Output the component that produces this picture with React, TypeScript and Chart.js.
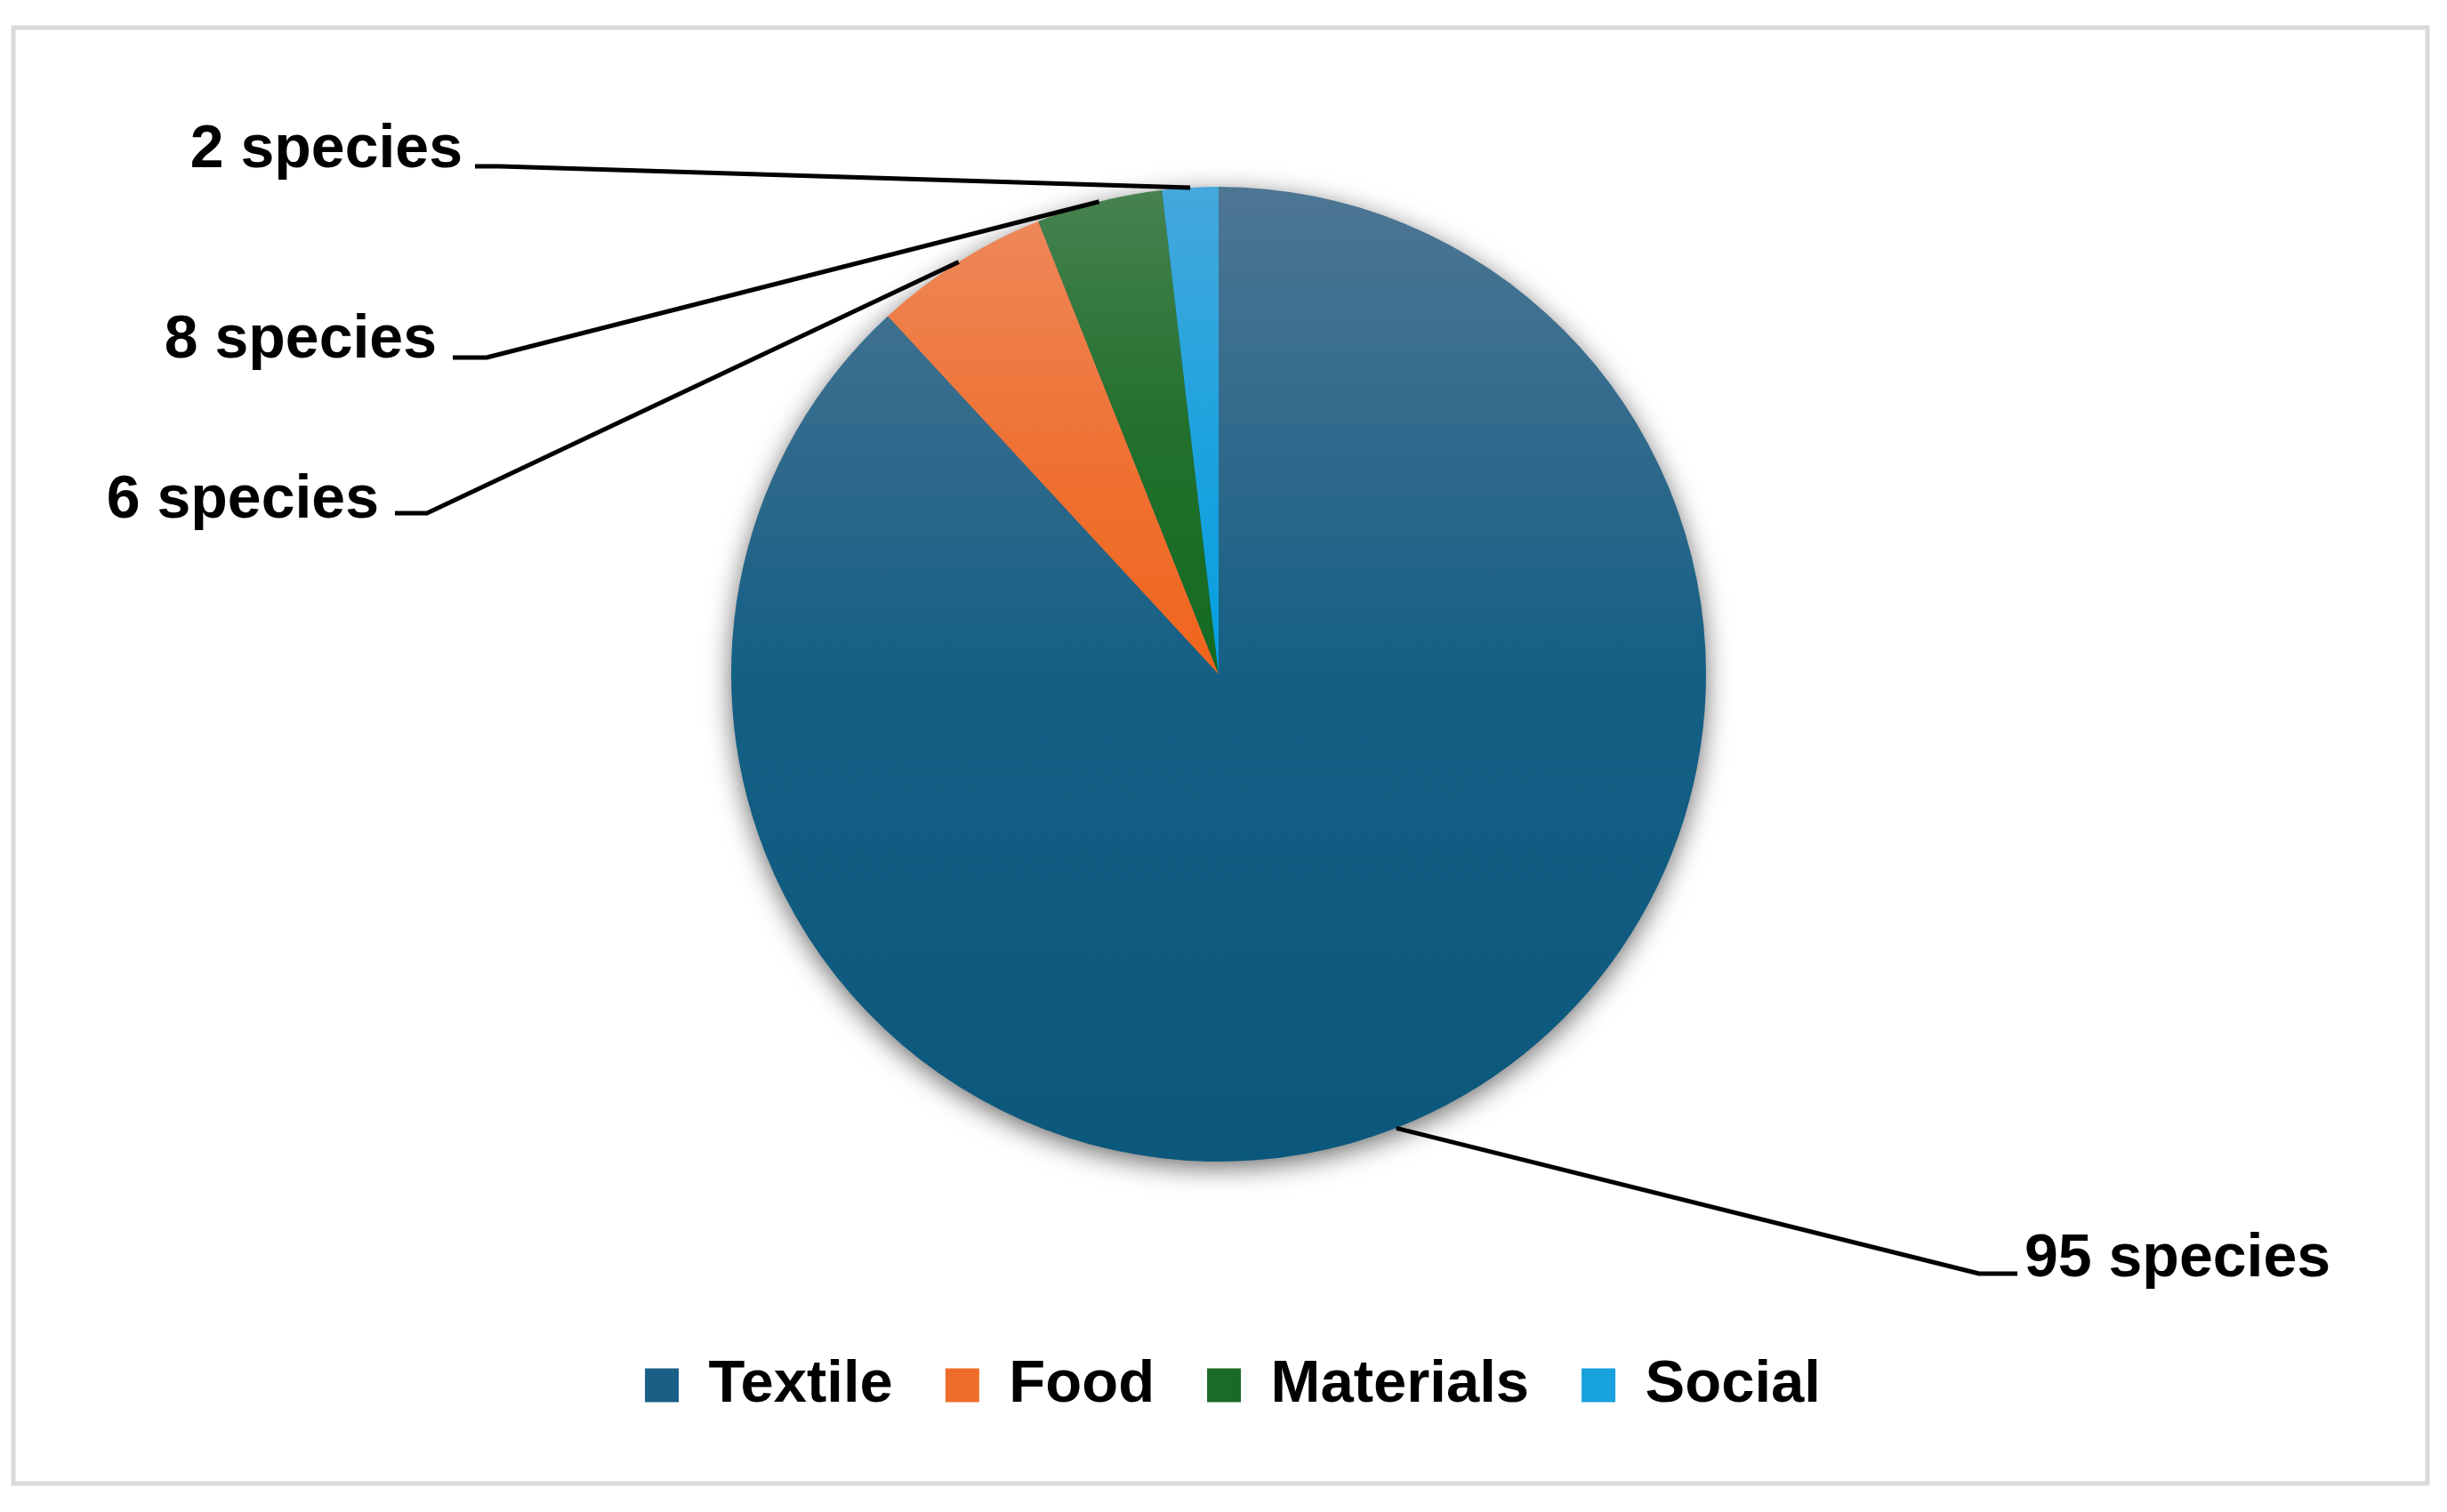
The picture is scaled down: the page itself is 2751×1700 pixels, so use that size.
import React, { useEffect, useRef } from "react";
import { Chart, registerables } from "chart.js";

Chart.register(...registerables);

// ---- data ----
const categories = ["Textile", "Food", "Materials", "Social"];
const speciesValues = [95, 6.3, 4.5, 2];
const speciesLabels = ["95 species", "6 species", "8 species", "2 species"];

// ---- styles ----
const sliceGradients: string[][] = [
  ["#4d7693", "#155f85", "#0b587c"],
  ["#ee8758", "#ef7234", "#f0651c"],
  ["#468250", "#22702c", "#146a20"],
  ["#45a8dc", "#1ea3de", "#059fe0"],
];
const legendColors = ["#1a5f86", "#ef6c2a", "#1b6a27", "#17a1dd"];
const FONT = '"Liberation Sans", Arial, sans-serif';

// label placement relative to pie centre (annotation layout)
const labelLayout = [
  { tx: 906, ty: 677, align: "left", x0: 898, x1: 855, yl: 674 },
  { tx: -944, ty: -176, align: "right", x0: -926, x1: -890, yl: -181 },
  { tx: -879, ty: -356, align: "right", x0: -861, x1: -823, yl: -356 },
  { tx: -850, ty: -570, align: "right", x0: -836, x1: -808, yl: -571 },
];

function sliceFill(ctx: any) {
  const i = ctx.dataIndex;
  const stops = sliceGradients[i];
  const el = ctx.element;
  if (!el || !isFinite(el.x) || !isFinite(el.outerRadius) || el.outerRadius <= 0) return stops[1];
  const { x, y, outerRadius: r, startAngle: a0, endAngle: a1 } = el;
  const ys = [y, y + r * Math.sin(a0), y + r * Math.sin(a1)];
  const TWO = Math.PI * 2;
  const inRange = (a: number) => {
    let t = a;
    while (t < a0) t += TWO;
    while (t > a0 + TWO) t -= TWO;
    return t <= a1;
  };
  if (inRange(-Math.PI / 2)) ys.push(y - r);
  if (inRange(Math.PI / 2)) ys.push(y + r);
  const minY = Math.min(...ys);
  const maxY = Math.max(...ys);
  const g = ctx.chart.ctx.createLinearGradient(0, minY, 0, maxY);
  g.addColorStop(0, stops[0]);
  g.addColorStop(0.5, stops[1]);
  g.addColorStop(1, stops[2]);
  return g;
}

const decorPlugin = {
  id: "decor",
  afterLayout(chart: any) {
    // legend sits slightly right of the pie centre in the original
    if (chart.legend) {
      chart.legend.left += 16;
      chart.legend.right += 16;
    }
  },
  beforeDraw(chart: any) {
    const c = chart.ctx;
    c.save();
    c.strokeStyle = "#d9d9d9";
    c.lineWidth = 5;
    c.strokeRect(15, 31, 2714, 1637);
    c.restore();
  },
  beforeDatasetsDraw(chart: any) {
    const el = chart.getDatasetMeta(0).data[0];
    if (!el) return;
    const { x, y, outerRadius } = el.getProps(["x", "y", "outerRadius"], true);
    const c = chart.ctx;
    c.save();
    c.shadowColor = "rgba(0,0,0,0.6)";
    c.shadowBlur = 30;
    c.shadowOffsetY = 7;
    c.beginPath();
    c.arc(x, y, outerRadius - 1, 0, Math.PI * 2);
    c.fillStyle = "#156082";
    c.fill();
    c.restore();
  },
  afterDatasetsDraw(chart: any) {
    const meta = chart.getDatasetMeta(0);
    const c = chart.ctx;
    c.save();
    meta.data.forEach((el: any, i: number) => {
      const { x, y, outerRadius, startAngle, endAngle } = el.getProps(
        ["x", "y", "outerRadius", "startAngle", "endAngle"],
        true
      );
      const mid = (startAngle + endAngle) / 2;
      const ax = x + Math.cos(mid) * outerRadius;
      const ay = y + Math.sin(mid) * outerRadius;
      const L = labelLayout[i];
      c.strokeStyle = "#000";
      c.lineWidth = 5;
      c.lineJoin = "round";
      c.lineCap = "butt";
      c.beginPath();
      c.moveTo(x + L.x0, y + L.yl);
      c.lineTo(x + L.x1, y + L.yl);
      c.lineTo(ax, ay);
      c.stroke();
      c.fillStyle = "#000";
      c.font = `bold 68px ${FONT}`;
      c.textAlign = L.align;
      c.textBaseline = "alphabetic";
      c.fillText(speciesLabels[i], x + L.tx, y + L.ty);
    });
    c.restore();
  },
};

export default function App() {
  const ref = useRef<HTMLCanvasElement | null>(null);
  useEffect(() => {
    if (!ref.current) return;
    const chart = new Chart(ref.current, {
      type: "pie",
      data: {
        labels: categories,
        datasets: [
          {
            data: speciesValues,
            backgroundColor: sliceFill as any,
            borderWidth: 0,
            radius: 548,
          } as any,
        ],
      },
      options: {
        responsive: false,
        animation: false,
        layout: { padding: { left: 0, right: 11, top: 51, bottom: 99 } },
        plugins: {
          tooltip: { enabled: false },
          legend: {
            display: true,
            position: "bottom",
            labels: {
              boxWidth: 38,
              boxHeight: 38,
              padding: 59,
              color: "#000",
              font: { family: FONT, size: 67, weight: "bold" },
              generateLabels: () =>
                categories.map((c, i) => ({
                  text: c,
                  fillStyle: legendColors[i],
                  strokeStyle: legendColors[i],
                  lineWidth: 0,
                  hidden: false,
                  index: i,
                  fontColor: "#000",
                })),
            },
          },
        },
      } as any,
      plugins: [decorPlugin],
    });
    chart.update();
    return () => chart.destroy();
  }, []);
  return (
    <div style={{ position: "fixed", left: 0, top: 0, width: 2751, height: 1700, background: "#fff" }}>
      <canvas ref={ref} width={2751} height={1700} style={{ display: "block" }} />
    </div>
  );
}
